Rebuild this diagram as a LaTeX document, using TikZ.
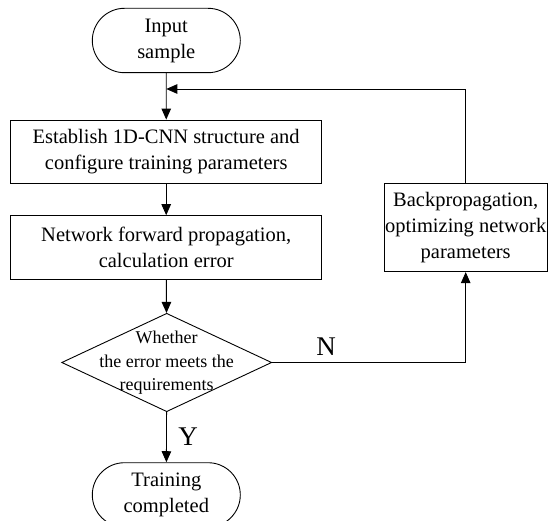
\documentclass[tikz,border=0pt]{standalone}
\usepackage{fontspec}
\setmainfont{Liberation Serif}
\usetikzlibrary{shapes.misc,shapes.geometric,arrows.meta}

\begin{document}
\begin{tikzpicture}[x=1pt, y=-1pt, line width=0.9pt,
  >={Triangle[length=11pt,width=9.5pt]},
  every node/.style={font=\fontsize{20.5}{26}\selectfont, align=center, inner sep=0pt},
  term/.style={draw, rounded rectangle, minimum width=148, minimum height=64.4},
  proc/.style={draw, rectangle, minimum width=311, minimum height=63.5},
  cond/.style={draw, diamond, minimum width=210, minimum height=98.4},
  lbl/.style={font=\fontsize{27}{30}\selectfont}]
\useasboundingbox (0,0) rectangle (548,521);
% main column
\node[term] (start) at (166.3,40.5) {Input\\sample};
\node[proc] (setup) at (166.2,151.8) {Establish 1D-CNN structure and\\configure training parameters};
\node[proc] (fwd) at (166.2,247.4) {Network forward propagation,\\calculation error};
\node[cond] (check) at (166.7,362.5) {};
\node at (166.7,363) [font=\fontsize{18}{23.5}\selectfont] {Whether\\the error meets the\\requirements};
\node[term] (done) at (166.3,494.9) {Training\\completed};
% feedback branch
\node[draw, minimum width=163.3, minimum height=87.7] (back) at (465.7,227.8)
  {Backpropagation,\\optimizing network\\parameters};
\coordinate (join) at (166.3,89);
\draw[->] (start) -- (setup);
\draw[->] (setup) -- (fwd);
\draw[->] (fwd) -- (check);
\draw[->] (check) -- (done);
\draw[->] (check.east) -| (back.south);
\draw[->] (back.north) |- (join);
\node[lbl] (nmark) at (326,347) {N};
\node[lbl] (ymark) at (188,436.5) {Y};
\end{tikzpicture}
\end{document}
